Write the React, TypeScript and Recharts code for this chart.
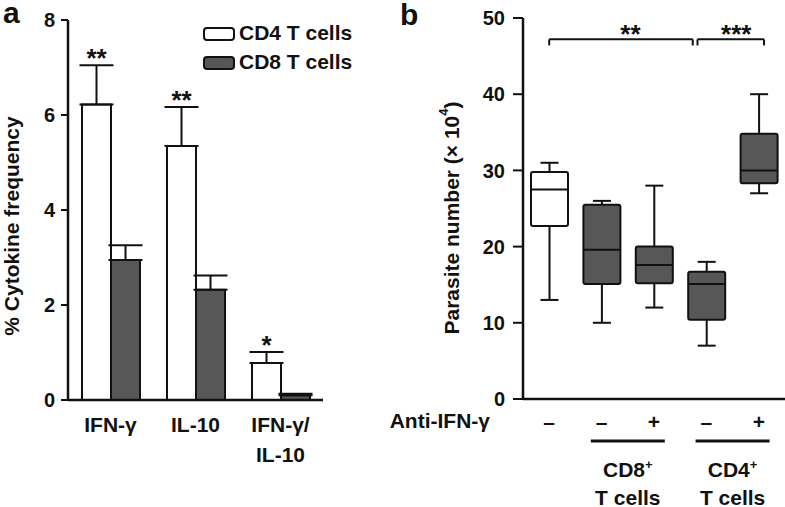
import React from "react";
import {
  BarChart,
  Bar,
  XAxis,
  YAxis,
  ErrorBar,
  Legend,
  LabelList,
  Label,
  ComposedChart,
  ReferenceLine,
  ReferenceDot,
} from "recharts";

// panel a
const cytokines = ["IFN-γ", "IL-10", "IFN-γ/\nIL-10"];
const cd4Mean = [6.22, 5.35, 0.78];
const cd4Err = [0.83, 0.82, 0.23];
const cd8Mean = [2.95, 2.32, 0.1];
const cd8Err = [0.31, 0.3, 0.03];
const cd4Sig = ["**", "**", "*"];
const cytoTicks = [0, 2, 4, 6, 8];

// panel b
const antiIfn = ["–", "–", "+", "–", "+"];
const whiskerLow = [13, 10, 12, 7, 27];
const q1 = [22.7, 15.1, 15.2, 10.4, 28.3];
const median = [27.5, 19.6, 17.6, 15.1, 30];
const q3 = [29.8, 25.5, 20, 16.7, 34.8];
const whiskerHigh = [31, 26, 28, 18, 40];
const parasiteTicks = [0, 10, 20, 30, 40, 50];
const cellGroups = [
  { pos: 1.5, name: "CD8" },
  { pos: 3.5, name: "CD4" },
];
const brackets = [
  { from: 0, to: 2.74, y: 47.2, label: "**", at: 1.55 },
  { from: 2.83, to: 4.1, y: 47.2, label: "***", at: 3.57 },
];

const FONT = "'Liberation Sans', Arial, sans-serif";
const INK = "#111";
const GRAY = "#575757";

const cytoData = cytokines.map((c, i) => ({
  name: c,
  cd4: cd4Mean[i],
  cd8: cd8Mean[i],
  cd4Err: [0, cd4Err[i]],
  cd8Err: [0, cd8Err[i]],
  sig: cd4Sig[i],
}));

const boxData = whiskerLow.map((lo, i) => ({
  pos: i,
  range: [lo, whiskerHigh[i]],
  lo,
  q1: q1[i],
  med: median[i],
  q3: q3[i],
  hi: whiskerHigh[i],
}));

const txt = { fontFamily: FONT, fontWeight: 700, fill: INK };

function CytoTick(props: any) {
  const { x, y, payload } = props;
  const lines = String(payload.value).split("\n");
  return (
    <text x={x} y={y} textAnchor="middle" fontSize={21} style={txt}>
      {lines.map((l, i) => (
        <tspan key={i} x={x} dy={i === 0 ? 32 : 30}>
          {l}
        </tspan>
      ))}
    </text>
  );
}

function StarLabel(props: any) {
  const { x, y, width, height, index, value } = props;
  const top = y - cd4Err[index] * (height / cd4Mean[index]);
  return (
    <text x={x + width / 2} y={top + 2} textAnchor="middle" fontSize={26} style={txt}>
      {value}
    </text>
  );
}

function CytoLegend(props: any) {
  const { payload } = props;
  return (
    <div style={{ fontFamily: FONT, fontWeight: 700, fontSize: 21, color: INK }}>
      {(payload || []).map((p: any, i: number) => (
        <div key={i} style={{ display: "flex", alignItems: "center", height: 29 }}>
          <svg width={32} height={15} style={{ marginTop: 3 }}>
            <rect x={1} y={1} width={30} height={12} rx={3} fill={p.color} stroke={INK} strokeWidth={2} />
          </svg>
          <span style={{ marginLeft: 4 }}>{p.value}</span>
        </div>
      ))}
    </div>
  );
}

function BoxShape(props: any) {
  const { x, y, width, height, payload, index } = props;
  const { lo, hi } = payload;
  const k = height / (hi - lo);
  const yOf = (v: number) => y + (hi - v) * k;
  const cx = x + width / 2;
  const cap = 9;
  const fill = index === 0 ? "#fff" : GRAY;
  return (
    <g stroke={INK} strokeWidth={2}>
      <line x1={cx} x2={cx} y1={yOf(hi)} y2={yOf(payload.q3)} />
      <line x1={cx - cap} x2={cx + cap} y1={yOf(hi)} y2={yOf(hi)} />
      <line x1={cx} x2={cx} y1={yOf(payload.q1)} y2={yOf(lo)} />
      <line x1={cx - cap} x2={cx + cap} y1={yOf(lo)} y2={yOf(lo)} />
      <rect
        x={x}
        y={yOf(payload.q3)}
        width={width}
        height={yOf(payload.q1) - yOf(payload.q3)}
        fill={fill}
        rx={2}
      />
      <line x1={x} x2={x + width} y1={yOf(payload.med)} y2={yOf(payload.med)} />
    </g>
  );
}

function SignTick(props: any) {
  const { x, y, index } = props;
  return (
    <text x={x} y={y + 22} textAnchor="middle" dominantBaseline="central" fontSize={21} style={txt}>
      {antiIfn[index]}
    </text>
  );
}

function GroupTick(props: any) {
  const { x, y, payload } = props;
  const g = cellGroups.find((c) => c.pos === payload.value);
  if (!g) return null;
  return (
    <g>
      <line x1={x - 37} x2={x + 37} y1={y + 12} y2={y + 12} stroke={INK} strokeWidth={3} />
      <text x={x} y={y + 48} textAnchor="middle" fontSize={21} style={txt}>
        <tspan>{g.name}</tspan>
        <tspan dy={-8} fontSize={13}>
          +
        </tspan>
      </text>
      <text x={x} y={y + 76} textAnchor="middle" fontSize={21} style={txt}>
        T cells
      </text>
    </g>
  );
}

export default function App() {
  return (
    <div style={{ position: "absolute", left: 0, top: 0, width: 785, height: 507, background: "#fff" }}>
      <svg width={60} height={40} style={{ position: "absolute", left: 0, top: 0 }}>
        <text x={3} y={23} fontSize={30} style={txt}>
          a
        </text>
      </svg>
      <svg width={60} height={40} style={{ position: "absolute", left: 396, top: 0 }}>
        <text x={4} y={25} fontSize={30} style={txt}>
          b
        </text>
      </svg>

      <div style={{ position: "absolute", left: 0, top: 0 }}>
        <BarChart
          width={330}
          height={507}
          data={cytoData}
          margin={{ top: 20, right: 7, left: 0, bottom: 47 }}
          barGap={0}
          barSize={29}
        >
          <XAxis
            dataKey="name"
            height={60}
            axisLine={{ stroke: INK, strokeWidth: 2.5 }}
            tickLine={false}
            tickSize={0}
            tickMargin={0}
            tick={<CytoTick />}
            interval={0}
          />
          <YAxis
            width={68}
            domain={[0, 8]}
            ticks={cytoTicks}
            axisLine={{ stroke: INK, strokeWidth: 2.5 }}
            tickLine={{ stroke: INK, strokeWidth: 2 }}
            tickSize={7}
            tickMargin={6}
            tick={{ fontSize: 20, fontFamily: FONT, fontWeight: 700, fill: INK }}
          >
            <Label
              content={(p: any) => (
                <text
                  transform={`translate(${p.viewBox.x + 11}, 226) rotate(-90)`}
                  textAnchor="middle"
                  dominantBaseline="central"
                  fontSize={21}
                  style={txt}
                >
                  % Cytokine frequency
                </text>
              )}
            />
          </YAxis>
          <Legend
            layout="vertical"
            verticalAlign="middle"
            align="center"
            wrapperStyle={{ left: 203, top: 18, width: 180, height: 60 }}
            content={<CytoLegend />}
          />
          <Bar dataKey="cd4" name="CD4 T cells" fill="#fff" stroke={INK} strokeWidth={2} isAnimationActive={false}>
            <ErrorBar dataKey="cd4Err" width={17} stroke={INK} strokeWidth={2} direction="y" />
            <LabelList dataKey="sig" content={<StarLabel />} />
          </Bar>
          <Bar dataKey="cd8" name="CD8 T cells" fill={GRAY} stroke={INK} strokeWidth={2} isAnimationActive={false}>
            <ErrorBar dataKey="cd8Err" width={17} stroke={INK} strokeWidth={2} direction="y" />
          </Bar>
        </BarChart>
      </div>

      <div style={{ position: "absolute", left: 380, top: 0 }}>
        <ComposedChart width={405} height={507} data={boxData} margin={{ top: 18, right: 0, left: 0, bottom: 0 }}>
          <XAxis
            xAxisId="main"
            type="number"
            dataKey="pos"
            domain={[-0.5, 4.5]}
            ticks={[0, 1, 2, 3, 4]}
            height={30}
            axisLine={{ stroke: INK, strokeWidth: 2.5 }}
            tickLine={false}
            tickSize={0}
            tickMargin={0}
            tick={<SignTick />}
            interval={0}
          >
            <Label
              content={(p: any) => (
                <text
                  x={p.viewBox.x - 33}
                  y={p.viewBox.y + 21}
                  textAnchor="end"
                  dominantBaseline="central"
                  fontSize={21}
                  style={txt}
                >
                  Anti-IFN-γ
                </text>
              )}
            />
          </XAxis>
          <XAxis
            xAxisId="under"
            type="number"
            dataKey="pos"
            domain={[-0.5, 4.5]}
            ticks={cellGroups.map((g) => g.pos)}
            height={78}
            axisLine={false}
            tickLine={false}
            tickSize={0}
            tickMargin={0}
            tick={<GroupTick />}
            interval={0}
          />
          <YAxis
            width={143}
            domain={[0, 50]}
            ticks={parasiteTicks}
            axisLine={{ stroke: INK, strokeWidth: 2.5 }}
            tickLine={{ stroke: INK, strokeWidth: 2 }}
            tickSize={10}
            tickMargin={8}
            tick={{ fontSize: 20, fontFamily: FONT, fontWeight: 700, fill: INK }}
          >
            <Label
              content={(p: any) => (
                <text
                  transform={`translate(${p.viewBox.x + 71}, 218) rotate(-90)`}
                  textAnchor="middle"
                  dominantBaseline="central"
                  fontSize={21}
                  style={txt}
                >
                  <tspan>Parasite number (× 10</tspan>
                  <tspan dy={-8} fontSize={13}>
                    4
                  </tspan>
                  <tspan dy={8}>)</tspan>
                </text>
              )}
            />
          </YAxis>
          <Bar xAxisId="main" dataKey="range" barSize={37} shape={<BoxShape />} isAnimationActive={false} />
          {brackets.map((b, i) => (
            <ReferenceLine
              key={`h${i}`}
              xAxisId="main"
              segment={[
                { x: b.from, y: b.y },
                { x: b.to, y: b.y },
              ]}
              stroke={INK}
              strokeWidth={2}
            />
          ))}
          {brackets.flatMap((b, i) =>
            [b.from, b.to].map((bx, j) => (
              <ReferenceLine
                key={`v${i}-${j}`}
                xAxisId="main"
                segment={[
                  { x: bx, y: b.y },
                  { x: bx, y: b.y - 0.8 },
                ]}
                stroke={INK}
                strokeWidth={2}
              />
            ))
          )}
          {brackets.map((b, i) => (
            <ReferenceDot
              key={`s${i}`}
              xAxisId="main"
              x={b.at}
              y={b.y}
              r={0}
              shape={(p: any) => (
                <text x={p.cx} y={p.cy + 4} textAnchor="middle" fontSize={26} style={txt}>
                  {b.label}
                </text>
              )}
            />
          ))}
        </ComposedChart>
      </div>
    </div>
  );
}
